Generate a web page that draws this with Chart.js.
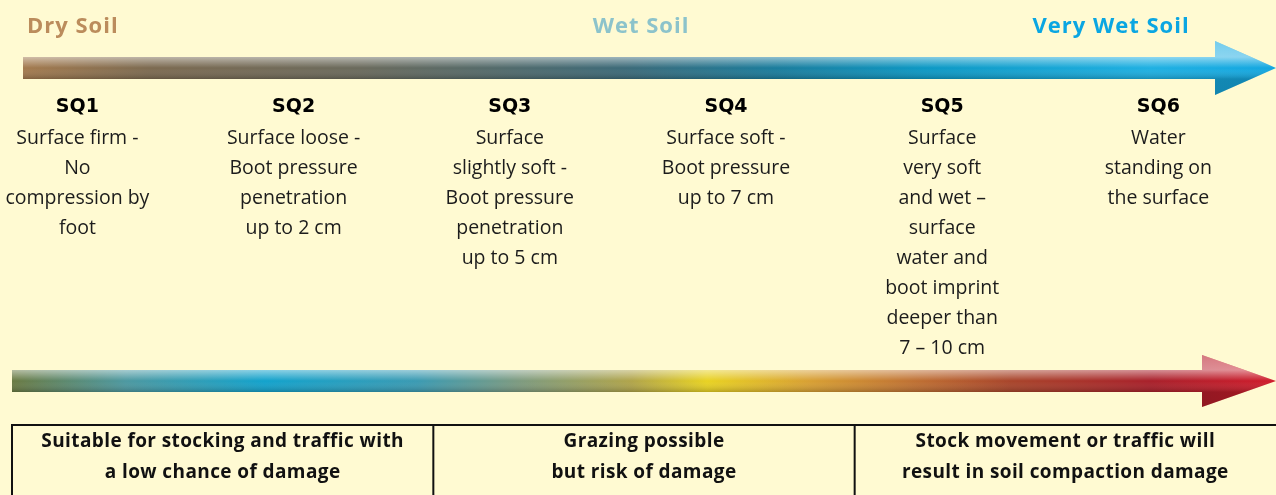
<!DOCTYPE html>
<html>
<head>
<meta charset="utf-8">
<script src="https://cdn.jsdelivr.net/npm/chart.js@4/dist/chart.umd.min.js"></script>
<style>
  html, body { margin: 0; padding: 0; background: #fffad2; }
  canvas { display: block; }
</style>
</head>
<body>
<canvas id="soilChart" width="1276" height="495"></canvas>
<script>
// --- data
var sqLevels = [1, 2, 3, 4, 5, 6];
var sqLabels = ['SQ1', 'SQ2', 'SQ3', 'SQ4', 'SQ5', 'SQ6'];
var sqDescriptions = [
    ['Surface firm -', 'No', 'compression by', 'foot'],
    ['Surface loose -', 'Boot pressure', 'penetration', 'up to 2 cm'],
    ['Surface', 'slightly soft -', 'Boot pressure', 'penetration', 'up to 5 cm'],
    ['Surface soft -', 'Boot pressure', 'up to 7 cm'],
    ['Surface', 'very soft', 'and wet \u2013', 'surface', 'water and', 'boot imprint', 'deeper than', '7 \u2013 10 cm'],
    ['Water', 'standing on', 'the surface']
];
var soilLabels = ['Dry Soil', 'Wet Soil', 'Very Wet Soil'];
var soilColors = ['#bb8c5c', '#8cc3cb', '#0aa6e2'];
var adviceLabels = [
    ['Suitable for stocking and traffic with', 'a low chance of damage'],
    ['Grazing possible', 'but risk of damage'],
    ['Stock movement or traffic will', 'result in soil compaction damage']
];

// colour stops of the two arrows (position 0..1, colour)
var moistureStops = [
    [0, '#a37a4e'], [0.1, '#7c6a50'], [0.27, '#6a6a5c'], [0.36, '#566a68'],
    [0.48, '#3c6a78'], [0.6, '#1a7c9c'], [0.72, '#0c98c4'], [0.9, '#1eb0e2'], [1, '#12a6e0']
];
var riskStops = [
    [0, '#6a7a42'], [0.09, '#4c98a0'], [0.2, '#12a2cc'], [0.32, '#3a9ab2'],
    [0.4, '#7c9a80'], [0.49, '#b0a44a'], [0.55, '#e8d222'], [0.63, '#d8a032'],
    [0.71, '#c07232'], [0.79, '#a8442a'], [0.9, '#a8202a'], [1, '#d01c2c']
];

function drawArrow(ctx, x0, x1, shaftTop, shaftBot, headX, headTop, headBot, stops) {
    ctx.save();
    var midY = (shaftTop + shaftBot) / 2;
    ctx.beginPath();
    ctx.moveTo(x0, shaftTop);
    ctx.lineTo(headX, shaftTop);
    ctx.lineTo(headX, headTop);
    ctx.lineTo(x1, midY);
    ctx.lineTo(headX, headBot);
    ctx.lineTo(headX, shaftBot);
    ctx.lineTo(x0, shaftBot);
    ctx.closePath();
    var g = ctx.createLinearGradient(x0, 0, x1, 0);
    stops.forEach(function (s) { g.addColorStop(s[0], s[1]); });
    ctx.fillStyle = g;
    ctx.fill();
    // 3D shading: light on top, dark at the bottom
    var v = ctx.createLinearGradient(0, headTop, 0, headBot);
    v.addColorStop(0, 'rgba(255,255,255,0.4)');
    v.addColorStop((shaftTop - headTop) / (headBot - headTop), 'rgba(255,255,255,0.5)');
    v.addColorStop((midY - headTop) / (headBot - headTop), 'rgba(255,255,255,0.0)');
    v.addColorStop((shaftBot - headTop) / (headBot - headTop), 'rgba(0,0,0,0.2)');
    v.addColorStop(1, 'rgba(0,0,0,0.22)');
    ctx.fillStyle = v;
    ctx.fill();
    ctx.restore();
}

var infographic = {
    id: 'infographic',
    beforeDraw: function (chart) {
        var ctx = chart.ctx;
        var w = chart.width;
        ctx.save();
        ctx.fillStyle = '#fffad2';
        ctx.fillRect(0, 0, w, chart.height);
        ctx.restore();
        drawArrow(ctx, 23, w, 57, 79, 1215, 41, 95, moistureStops);
        drawArrow(ctx, 12, w, 370, 392, 1202, 355, 407, riskStops);
    },
    afterDraw: function (chart) {
        var ctx = chart.ctx;
        var xs = chart.scales.x;
        var w = chart.width;
        ctx.save();

        // soil state headers
        ctx.font = 'bold 22px "Open Sans"';
        ctx.letterSpacing = '1px';
        ctx.textBaseline = 'middle';
        ctx.fillStyle = soilColors[0];
        ctx.textAlign = 'left';
        ctx.fillText(soilLabels[0], 27, 27);
        ctx.fillStyle = soilColors[1];
        ctx.textAlign = 'center';
        ctx.fillText(soilLabels[1], 641, 27);
        ctx.fillStyle = soilColors[2];
        ctx.fillText(soilLabels[2], 1111, 27);
        ctx.letterSpacing = '0px';

        // SQ columns
        sqLevels.forEach(function (lv, i) {
            var x = xs.getPixelForValue(lv);
            ctx.textAlign = 'center';
            ctx.fillStyle = '#000';
            ctx.font = 'bold 19px "DejaVu Sans"';
            ctx.fillText(sqLabels[i], x, 107);
            ctx.fillStyle = '#1c1c1c';
            ctx.font = '19.5px "Open Sans"';
            sqDescriptions[i].forEach(function (line, j) {
                ctx.fillText(line, x, 138 + j * 30);
            });
        });

        // advice boxes
        var bx0 = 12, bw = (w - bx0) / 3, by = 425;
        ctx.strokeStyle = '#111';
        ctx.lineWidth = 2;
        ctx.beginPath();
        ctx.moveTo(bx0, 505); ctx.lineTo(bx0, by); ctx.lineTo(w + 5, by);
        for (var k = 1; k < 3; k++) {
            ctx.moveTo(bx0 + k * bw, by); ctx.lineTo(bx0 + k * bw, 505);
        }
        ctx.stroke();
        ctx.fillStyle = '#111';
        ctx.font = 'bold 19px "Open Sans"';
        ctx.letterSpacing = '0.4px';
        adviceLabels.forEach(function (lines, i) {
            var cx = bx0 + bw * (i + 0.5);
            lines.forEach(function (line, j) {
                ctx.fillText(line, cx, 442 + j * 31);
            });
        });
        ctx.restore();
    }
};

new Chart(document.getElementById('soilChart'), {
    type: 'scatter',
    data: {
        datasets: [{
            label: 'Soil quality',
            data: sqLevels.map(function (lv) { return { x: lv, y: 0 }; }),
            pointRadius: 0
        }]
    },
    options: {
        responsive: false,
        animation: false,
        layout: { padding: 0 },
        plugins: { legend: { display: false }, tooltip: { enabled: false } },
        scales: {
            x: { type: 'linear', min: 0.642, max: 6.544, display: false },
            y: { min: -1, max: 1, display: false }
        }
    },
    plugins: [infographic]
});
</script>
</body>
</html>
